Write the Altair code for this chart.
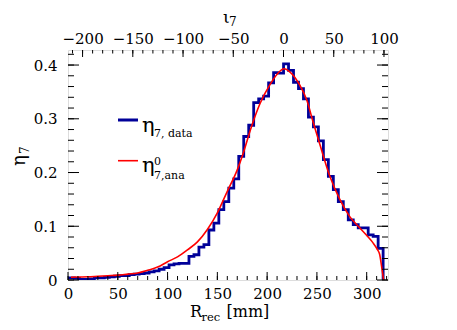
import altair as alt
import pandas as pd

FONT = "DejaVu Serif"

# ---- data ----
bin_start = -3.5
bin_width = 5.0
eta_data = [
    0.004, 0.004, 0.003, 0.001, 0.001, 0.002, 0.004, 0.004, 0.005, 0.006,
    0.007, 0.008, 0.008, 0.010, 0.011, 0.012, 0.013, 0.015, 0.017, 0.020,
    0.023, 0.028, 0.030, 0.031, 0.031, 0.044, 0.047, 0.061, 0.066, 0.093,
    0.106, 0.131, 0.146, 0.171, 0.188, 0.230, 0.267, 0.288, 0.330, 0.337,
    0.342, 0.367, 0.386, 0.385, 0.402, 0.390, 0.368, 0.356, 0.337, 0.303,
    0.285, 0.259, 0.224, 0.193, 0.168, 0.146, 0.131, 0.112, 0.103, 0.097,
    0.097, 0.084, 0.081, 0.059,
]
ana_r = [3, 10, 20, 30, 40, 50, 60, 70, 80, 90, 100, 110, 120, 130, 140, 150,
         160, 170, 176, 184, 193, 203, 210, 217, 223, 233, 240, 246, 253, 263,
         273, 283, 292, 301, 306, 311, 313, 315, 317]
ana_eta = [0.005, 0.0055, 0.006, 0.007, 0.008, 0.009, 0.011, 0.013, 0.018,
           0.024, 0.034, 0.043, 0.056, 0.071, 0.094, 0.125, 0.165, 0.205,
           0.236, 0.284, 0.329, 0.364, 0.383, 0.393, 0.387, 0.362, 0.334,
           0.295, 0.252, 0.193, 0.150, 0.118, 0.099, 0.081, 0.070, 0.056,
           0.048, 0.025, 0.0]
x_major = [0, 50, 100, 150, 200, 250, 300]
x_minor = list(range(0, 321, 10))
iota_major = [-200, -150, -100, -50, 0, 50, 100]
iota_minor = list(range(-210, 101, 10))
y_major = [0.0, 0.1, 0.2, 0.3, 0.4]
y_minor = [round(0.02 * i, 2) for i in range(22)]

R_DOMAIN = [0, 321.4]
IOTA_DOMAIN = [-214.5, 104.0]
Y_DOMAIN = [0, 0.428]
W, H = 320, 230

edges = [bin_start + bin_width * i for i in range(len(eta_data) + 1)]
hist_df = pd.DataFrame({"R": edges, "eta": eta_data + [0.0]})
ana_df = pd.DataFrame({"R": ana_r, "eta": ana_eta})
one = pd.DataFrame({"a": [0]})

xs = alt.Scale(domain=R_DOMAIN, nice=False, zero=False)
ios = alt.Scale(domain=IOTA_DOMAIN, nice=False, zero=False)
ys = alt.Scale(domain=Y_DOMAIN, nice=False)

lab = dict(labelFont=FONT, labelFontSize=15, labelColor="black", ticks=False,
           tickSize=0, domain=False, grid=False, title=None, labelFlush=False,
           labelOverlap=False)

y_axis = alt.Axis(orient="left", values=y_major, format="~g", labelPadding=11, **lab)


def Y(field):
    return alt.Y(field, scale=ys, axis=y_axis)


hist = alt.Chart(hist_df).mark_line(
    interpolate="step-after", color="#000099", strokeWidth=2.8, clip=True
).encode(
    x=alt.X("R:Q", scale=xs, axis=alt.Axis(orient="bottom", values=x_major,
                                          format="d", labelPadding=6, **lab)),
    y=Y("eta:Q"),
)

ana = alt.Chart(ana_df).mark_line(
    color="#ff0000", strokeWidth=1.6, clip=True, interpolate="monotone"
).encode(
    x=alt.X("R:Q", scale=xs, axis=None),
    y=Y("eta:Q"),
)


def xticks(vals, length):
    return alt.Chart(pd.DataFrame({"R": vals})).mark_rule(color="black", strokeWidth=1).encode(
        x=alt.X("R:Q", scale=xs, axis=None), y=alt.value(H), y2=alt.value(H - length))


def iticks(vals, length, axis):
    return alt.Chart(pd.DataFrame({"iota": vals})).mark_rule(color="black", strokeWidth=1).encode(
        x=alt.X("iota:Q", scale=ios, axis=axis), y=alt.value(0), y2=alt.value(length))


def yticks(vals, length):
    df = pd.DataFrame({"eta": vals})
    left = alt.Chart(df).mark_rule(color="black", strokeWidth=1).encode(
        y=Y("eta:Q"), x=alt.value(0), x2=alt.value(length))
    right = alt.Chart(df).mark_rule(color="black", strokeWidth=1).encode(
        y=Y("eta:Q"), x=alt.value(W), x2=alt.value(W - length))
    return [left, right]


top_axis = alt.Axis(orient="top", values=iota_major, format="d", labelPadding=3.5, **lab)


def txt(s, x, y, size, angle=0, align="left"):
    return alt.Chart(one).mark_text(
        text=s, fontSize=size, font=FONT, color="black", align=align,
        baseline="alphabetic", angle=angle
    ).encode(x=alt.value(x), y=alt.value(y))


def leg_line(color, width, y):
    return alt.Chart(one).mark_rule(color=color, strokeWidth=width).encode(
        x=alt.value(50), x2=alt.value(70), y=alt.value(y))


layers = [
    hist, ana,
    xticks(x_major, 8), xticks(x_minor, 4),
    iticks(iota_major, 7, top_axis), iticks(iota_minor, 3.5, None),
    *yticks(y_major, 11), *yticks(y_minor, 6),
    leg_line("#000099", 3, 70), leg_line("#ff0000", 1.6, 110.7),
    txt("η", 74, 81.7, 21), txt("7, data", 86, 87.3, 11),
    txt("η", 74, 121.7, 21), txt("0", 86, 114.5, 11), txt("7,ana", 86, 129.3, 11),
    txt("R", 122, 267.3, 16), txt("rec", 133.5, 270.7, 11.5), txt("[mm]", 158.5, 267.3, 16),
    txt("ι", 155, -27.5, 17), txt("7", 161, -24.5, 12),
    txt("η", -43, 116, 18, angle=270), txt("7", -39.5, 104, 12, angle=270),
]

chart = alt.layer(*layers).resolve_scale(x="independent").properties(
    width=W, height=H,
    autosize=alt.AutoSizeParams(type="none"),
    padding={"left": 60, "top": 42, "right": 60, "bottom": 46},
).configure_view(stroke="black", strokeWidth=1).configure(background="white")

chart.save("out.html", embed_options={"renderer": "svg", "actions": False})
